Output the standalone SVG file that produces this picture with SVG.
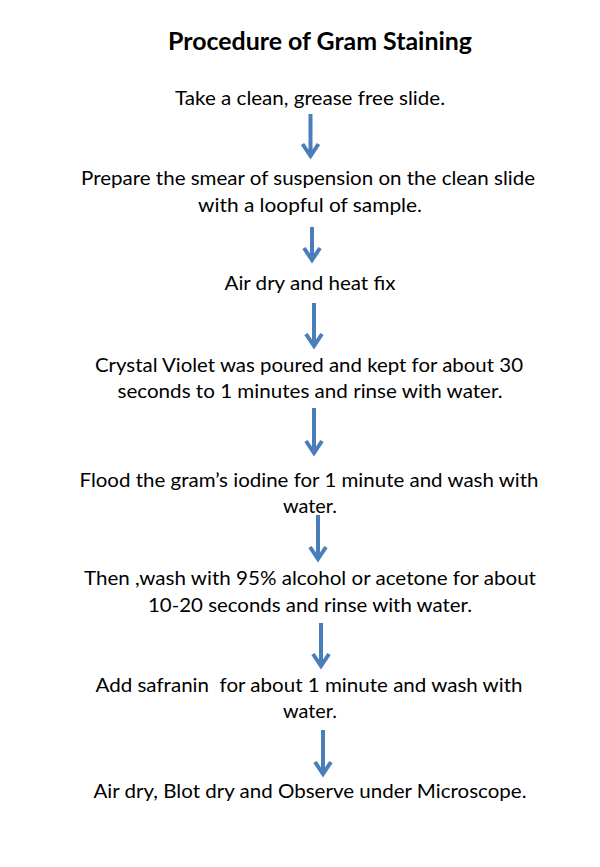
<svg xmlns="http://www.w3.org/2000/svg" width="600" height="867" viewBox="0 0 600 867">
<style>
.t{font-family:Lato,"Open Sans","Liberation Sans",sans-serif;font-size:20px;fill:#000;text-anchor:middle}
.h{font-family:Lato,"Open Sans","Liberation Sans",sans-serif;font-size:24px;font-weight:bold;fill:#000;text-anchor:middle}
.a{fill:none;stroke:#4a7ebb;stroke-width:4;stroke-linejoin:miter;stroke-linecap:butt}
</style>
<rect width="600" height="867" fill="#fff"/>
<g id="title"><text class="h" x="320" y="50" textLength="304" lengthAdjust="spacingAndGlyphs">Procedure of Gram Staining</text></g>
<g id="step1"><text class="t" x="310" y="105" textLength="270" lengthAdjust="spacingAndGlyphs">Take a clean, grease free slide.</text></g>
<g id="step2"><text class="t" x="308" y="185" textLength="454" lengthAdjust="spacingAndGlyphs">Prepare the smear of suspension on the clean slide</text><text class="t" x="310" y="212" textLength="224" lengthAdjust="spacingAndGlyphs">with a loopful of sample.</text></g>
<g id="step3"><text class="t" x="310" y="290" textLength="171" lengthAdjust="spacingAndGlyphs">Air dry and heat fix</text></g>
<g id="step4"><text class="t" x="309" y="372" textLength="428" lengthAdjust="spacingAndGlyphs">Crystal Violet was poured and kept for about 30</text><text class="t" x="310" y="398" textLength="385" lengthAdjust="spacingAndGlyphs">seconds to 1 minutes and rinse with water.</text></g>
<g id="step5"><text class="t" x="309" y="487" textLength="459" lengthAdjust="spacingAndGlyphs">Flood the gram’s iodine for 1 minute and wash with</text><text class="t" x="310" y="513" textLength="54" lengthAdjust="spacingAndGlyphs">water.</text></g>
<g id="step6"><text class="t" x="310" y="585" textLength="452" lengthAdjust="spacingAndGlyphs">Then ,wash with 95% alcohol or acetone for about</text><text class="t" x="310" y="612" textLength="324" lengthAdjust="spacingAndGlyphs">10-20 seconds and rinse with water.</text></g>
<g id="step7"><text class="t" x="309" y="692" textLength="427" lengthAdjust="spacingAndGlyphs" xml:space="preserve">Add safranin  for about 1 minute and wash with</text><text class="t" x="310" y="718" textLength="54" lengthAdjust="spacingAndGlyphs">water.</text></g>
<g id="step8"><text class="t" x="310" y="798" textLength="433" lengthAdjust="spacingAndGlyphs">Air dry, Blot dry and Observe under Microscope.</text></g>
<g id="connectors">
<path class="a" d="M310.5,114 V157 M302.5,144 L310.5,156 L318.5,144"/>
<path class="a" d="M312,227 V260 M304,248 L312,260 L320,248"/>
<path class="a" d="M314,303 V346 M306,334 L314,346 L322,334"/>
<path class="a" d="M314,408 V453 M306,441 L314,453 L322,441"/>
<path class="a" d="M318,515 V559 M310,547 L318,559 L326,547"/>
<path class="a" d="M321,623 V666 M313,654 L321,666 L329,654"/>
<path class="a" d="M323,730 V774 M315,762 L323,774 L331,762"/>
</g>
</svg>
